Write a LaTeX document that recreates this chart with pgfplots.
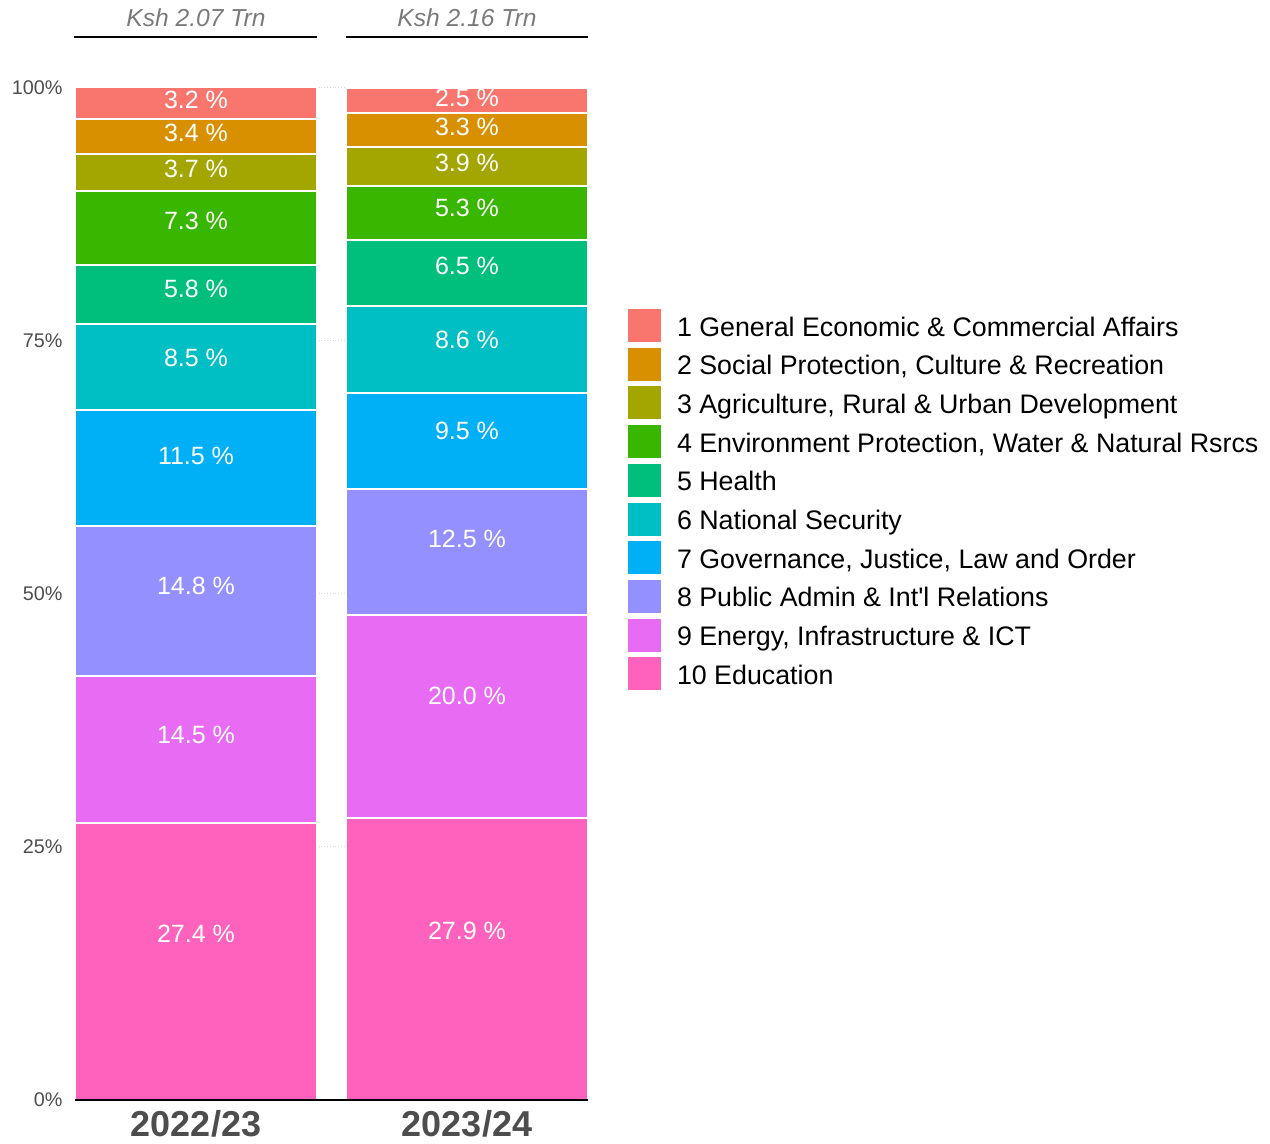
\documentclass[border=0pt]{standalone}
\usepackage{pgfplots}
\pgfplotsset{compat=1.18}
\usepackage{fontspec}
\setmainfont{Liberation Sans}
\definecolor{c1}{HTML}{F8766D}
\definecolor{c2}{HTML}{D89000}
\definecolor{c3}{HTML}{A3A500}
\definecolor{c4}{HTML}{39B600}
\definecolor{c5}{HTML}{00BF7D}
\definecolor{c6}{HTML}{00BFC4}
\definecolor{c7}{HTML}{00B0F6}
\definecolor{c8}{HTML}{9590FF}
\definecolor{c9}{HTML}{E76BF3}
\definecolor{c10}{HTML}{FF62BC}
\definecolor{tickgrey}{HTML}{4D4D4D}
\definecolor{titlegrey}{HTML}{7A7A7A}
\begin{document}
\begin{tikzpicture}
\useasboundingbox (0,0) rectangle (635pt,572pt);
\pgfplotsset{
  base/.style={
    at={(37.5pt,22pt)}, anchor=south west,
    scale only axis, width=256.5pt, height=506pt,
    xmin=-0.4465, xmax=1.4465, ymin=0, ymax=100,
    clip=false,
  }
}
\begin{axis}[base,
  ybar stacked, bar width=0.893,
  axis x line*=bottom, axis y line*=left,
  x axis line style={draw=none},
  y axis line style={draw=none},
  major tick length=0pt,
  xtick={0,1}, xticklabels={2022/23,2023/24},
  xticklabel style={font=\bfseries\fontsize{18}{18}\selectfont, text=tickgrey, inner sep=0pt, yshift=-5pt},
  ytick={0,25,50,75,100},
  yticklabel={\pgfmathprintnumber{\tick}\%},
  yticklabel style={font=\fontsize{9.9}{10}\selectfont, text=tickgrey, inner sep=0pt, xshift=-6pt},
  /pgf/number format/assume math mode=true,
  ymajorgrids, grid style={densely dotted, color=black!15, line width=0.5pt},
  every axis plot/.append style={draw=white, line width=1pt},
  reverse legend,
  legend cell align=left,
  legend image code/.code={\fill[#1, draw=none] (0pt,-7.1pt) rectangle (16.5pt,9.4pt);},
  legend style={at={(1.078,0.7816)}, anchor=north west, draw=none, fill=none,
    inner sep=0pt, outer sep=0pt, font=\fontsize{13.4}{15}\selectfont,
    nodes={inner sep=0pt}, column sep=8pt, row sep=2.85pt},
]
\addplot[fill=c10] coordinates {(0,27.4) (1,27.9)};
\addplot[fill=c9] coordinates {(0,14.5) (1,20.0)};
\addplot[fill=c8] coordinates {(0,14.8) (1,12.5)};
\addplot[fill=c7] coordinates {(0,11.5) (1,9.5)};
\addplot[fill=c6] coordinates {(0,8.5) (1,8.6)};
\addplot[fill=c5] coordinates {(0,5.8) (1,6.5)};
\addplot[fill=c4] coordinates {(0,7.3) (1,5.3)};
\addplot[fill=c3] coordinates {(0,3.7) (1,3.9)};
\addplot[fill=c2] coordinates {(0,3.4) (1,3.3)};
\addplot[fill=c1] coordinates {(0,3.2) (1,2.5)};
\legend{10 Education, 9 Energy{,} Infrastructure \& ICT, 8 Public Admin \& Int\textquotesingle l Relations,
  7 Governance{,} Justice{,} Law and Order, 6 National Security, 5 Health,
  4 Environment Protection{,} Water \& Natural Rsrcs, 3 Agriculture{,} Rural \& Urban Development,
  2 Social Protection{,} Culture \& Recreation, 1 General Economic \& Commercial Affairs}
\draw[black, line width=1pt] (axis cs:-0.450,105.04) -- (axis cs:0.4465,105.04);
\draw[black, line width=1pt] (axis cs:0.5535,105.04) -- (axis cs:1.4465,105.04);
\node[font=\itshape\fontsize{12.3}{12}\selectfont, text=titlegrey] at (axis cs:0,106.9) {Ksh 2.07 Trn};
\node[font=\itshape\fontsize{12.3}{12}\selectfont, text=titlegrey] at (axis cs:1,106.9) {Ksh 2.16 Trn};
\end{axis}
\begin{axis}[base,
  axis x line*=bottom, axis y line=none,
  x axis line style={black, line width=1pt},
  xtick=\empty, ytick=\empty,
  point meta=explicit symbolic,
  nodes near coords,
  every node near coord/.style={anchor=center, text=white, font=\fontsize{12.5}{12}\selectfont, inner sep=0pt},
]
\addplot[draw=none, mark=none] coordinates {
 (0,16.44) [27.4\ \%] (0,36.1) [14.5\ \%] (0,50.78) [14.8\ \%] (0,63.6) [11.5\ \%]
 (0,73.3) [8.5\ \%] (0,80.18) [5.8\ \%] (0,86.88) [7.3\ \%] (0,92.02) [3.7\ \%]
 (0,95.54) [3.4\ \%] (0,98.82) [3.2\ \%]
};
\addplot[draw=none, mark=none] coordinates {
 (1,16.74) [27.9\ \%] (1,39.9) [20.0\ \%] (1,55.4) [12.5\ \%] (1,66.1) [9.5\ \%]
 (1,75.06) [8.6\ \%] (1,82.4) [6.5\ \%] (1,88.18) [5.3\ \%] (1,92.64) [3.9\ \%]
 (1,96.18) [3.3\ \%] (1,99.0) [2.5\ \%]
};
\end{axis}
\end{tikzpicture}
\end{document}
